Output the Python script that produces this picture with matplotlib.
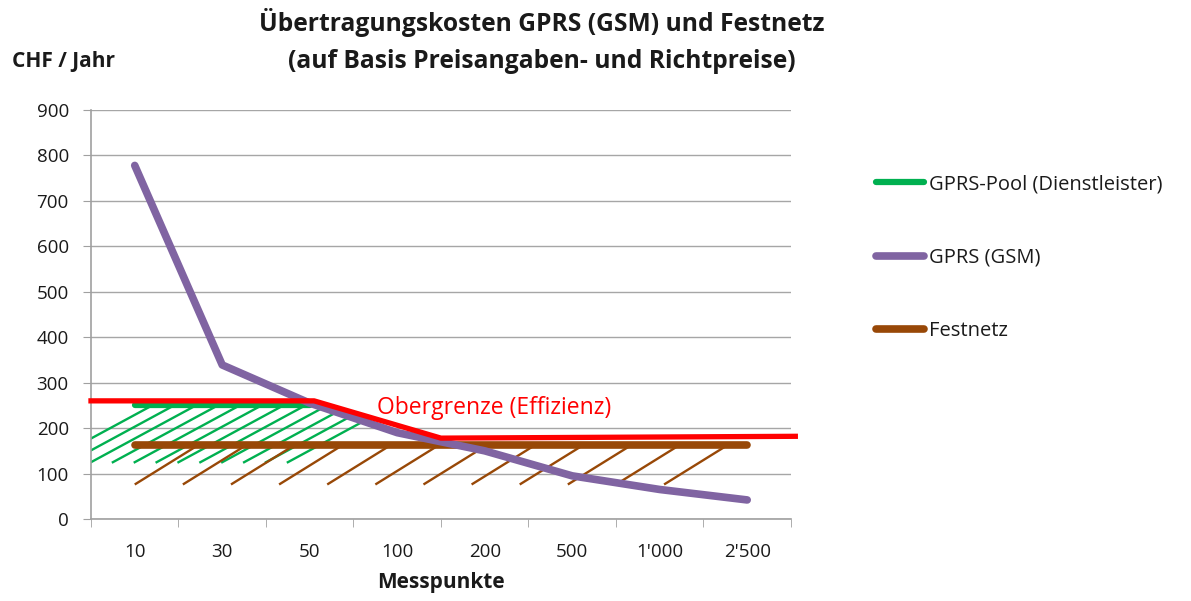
import numpy as np
import matplotlib.pyplot as plt
from matplotlib.patches import Polygon

plt.rcParams['font.family'] = ['Open Sans', 'DejaVu Sans']

# data
categories = ["10", "30", "50", "100", "200", "500", "1'000", "2'500"]
gprs_gsm = [778, 339, 255, 190, 150, 95, 65, 42]
gprs_pool = [250, 250, 250]           # 10 .. 50
festnetz = [162] * 8                  # 10 .. 2'500
grenze_x = [-0.5, 2.05, 3.5, 7.55]    # category positions of the limit line
grenze_y = [260, 260, 178, 182]

GREEN = '#00B050'
PURPLE = '#8064A2'
BROWN = '#984807'
RED = '#FF0000'
TXT = '#1a1a1a'

fig = plt.figure(figsize=(11.91, 6.01), dpi=100)
ax = fig.add_axes([0.0764, 0.1364, 0.5877, 0.6806])
x = np.arange(len(categories))

# hatching below the pool line (clipped by the GSM curve)
xs = np.linspace(-0.5, 3.0, 50)
clip_g = Polygon(np.column_stack([
    np.r_[-0.5, xs, 3.0],
    np.r_[120, np.minimum(246, np.interp(xs, x, gprs_gsm) - 4), 120]]),
    closed=True, transform=ax.transData, visible=False)
ax.add_patch(clip_g)
for s in np.arange(-1.0, 1.9, 0.25):
    ln, = ax.plot([s, s + 1.2], [125, 250], color=GREEN, lw=1.7, zorder=2)
    ln.set_clip_path(clip_g)

# hatching below the Festnetz line
for s in np.arange(0.0, 6.2, 0.55):
    ax.plot([s, s + 0.72], [76, 162], color=BROWN, lw=1.7, zorder=2,
            solid_capstyle='butt')

ax.plot(x[:3], gprs_pool, color=GREEN, lw=4.5, solid_capstyle='round', zorder=3,
        label='GPRS-Pool (Dienstleister)')
ax.plot(x, gprs_gsm, color=PURPLE, lw=5.5, solid_capstyle='round', zorder=4,
        label='GPRS (GSM)')
ax.plot(x, festnetz, color=BROWN, lw=5.5, solid_capstyle='round', zorder=3,
        label='Festnetz')
ax.plot(grenze_x, grenze_y, color=RED, lw=3.8, zorder=5, clip_on=False)
ax.text(2.77, 245, 'Obergrenze (Effizienz)', color=RED, fontsize=16.5,
        va='center', ha='left', zorder=6)

ax.set_xlim(-0.5, 7.5)
ax.set_ylim(0, 900)
ax.set_yticks(range(0, 901, 100))
ax.set_xticks(x)
ax.set_xticklabels(categories)
ax.set_xticks(np.arange(-0.5, 8.0, 1.0), minor=True)
ax.tick_params(axis='x', which='major', length=0, pad=17, labelsize=13.5,
               labelcolor=TXT)
ax.tick_params(axis='x', which='minor', length=6, color='#A0A0A0')
ax.tick_params(axis='y', length=6, color='#A0A0A0', labelsize=13.5, pad=10,
               labelcolor=TXT)
ax.grid(axis='y', color='#A6A6A6', lw=1)
ax.set_axisbelow(True)
for side in ('top', 'right'):
    ax.spines[side].set_visible(False)
for side in ('left', 'bottom'):
    ax.spines[side].set_color('#A0A0A0')
    ax.spines[side].set_linewidth(1.2)

ax.set_xlabel('Messpunkte', fontsize=15, fontweight='bold', labelpad=8,
              color=TXT)
fig.text(0.01, 0.897, 'CHF / Jahr', fontsize=15, fontweight='bold', va='center',
         color=TXT)
fig.text(0.455, 0.963, 'Übertragungskosten GPRS (GSM) und Festnetz',
         fontsize=17.7, fontweight='bold', ha='center', va='center', color=TXT)
fig.text(0.455, 0.897, '(auf Basis Preisangaben- und Richtpreise)',
         fontsize=17.7, fontweight='bold', ha='center', va='center', color=TXT)

leg = fig.legend(loc='upper left', bbox_to_anchor=(0.720, 0.74), frameon=False,
                 fontsize=14.5, labelspacing=2.65, handlelength=2.4,
                 handletextpad=0.25)
for t in leg.get_texts():
    t.set_color(TXT)

fig.savefig('out.png', dpi=100)
